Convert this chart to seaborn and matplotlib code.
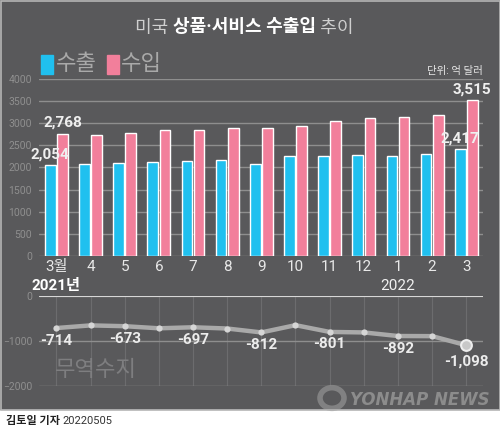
import numpy as np
import pandas as pd
import matplotlib
matplotlib.use("Agg")
import matplotlib.pyplot as plt
import seaborn as sns
from matplotlib.patches import Rectangle, Circle

# data (억 달러)
months = ["3월", "4", "5", "6", "7", "8", "9", "10", "11", "12", "1", "2", "3"]
exports = [2054, 2081, 2104, 2127, 2149, 2165, 2081, 2255, 2255, 2293, 2255, 2300, 2417]
imports = [2768, 2745, 2783, 2843, 2843, 2888, 2903, 2933, 3061, 3114, 3144, 3197, 3515]
balance = [-714, -655, -673, -720, -697, -725, -812, -650, -801, -812, -892, -895, -1098]
balance_labeled = [0, 2, 4, 6, 8, 10, 12]
bar_labels = [("수출", 0), ("수입", 0), ("수출", 12), ("수입", 12)]

BG = "#59595b"
BLUE = "#20c0ef"
PINK = "#f27f9b"

sns.set_theme(style="white")
plt.rcParams["font.family"] = ["Roboto", "Noto Sans CJK KR", "DejaVu Sans"]

df = pd.DataFrame({
    "month": months * 2,
    "kind": ["수출"] * len(months) + ["수입"] * len(months),
    "value": exports + imports,
})

fig = plt.figure(figsize=(5, 4.3), dpi=100, facecolor=BG)

# --- bar chart ---
ax = fig.add_axes([0.078, 0.4047, 0.888, 0.4116])
ax.set_facecolor(BG)
sns.barplot(data=df, x="month", y="value", hue="kind", order=months,
            hue_order=["수출", "수입"], palette={"수출": BLUE, "수입": PINK},
            width=0.71, gap=0.12, saturation=1, legend=False, ax=ax, zorder=3)
ax.set_ylim(0, 4000)
ax.set_xlim(-0.51, 12.49)
ax.set_yticks(np.arange(0, 4001, 500))
ax.yaxis.grid(True, color="#8e8e8e", lw=1)
ax.set_axisbelow(True)
for s in ax.spines.values():
    s.set_visible(False)
ax.set_xlabel("")
ax.set_ylabel("")
ax.tick_params(axis="y", length=0, pad=5, labelsize=7.5, labelcolor="#8f8f8f")
ax.tick_params(axis="x", length=0, pad=3, labelsize=11, labelcolor="#e8e8e8")

# value labels on first / last bars
for kind, i in bar_labels:
    cont = ax.containers[0] if kind == "수출" else ax.containers[1]
    bar = cont[i]
    val = exports[i] if kind == "수출" else imports[i]
    ax.annotate(f"{val:,}", (bar.get_x() + bar.get_width() / 2, bar.get_height()),
                xytext=(0, 2.5), textcoords="offset points", ha="center", va="bottom",
                fontsize=11, fontweight="bold", color="#efefef", zorder=5)

ax.text(0, -0.168, "2021년", transform=ax.get_xaxis_transform(), ha="center", va="center",
        fontsize=11, fontweight="bold", color="#ffffff")
ax.text(10, -0.168, "2022", transform=ax.get_xaxis_transform(), ha="center", va="center",
        fontsize=11, color="#f0f0f0")

# --- trade balance line ---
ax2 = fig.add_axes([0.078, 0.103, 0.888, 0.2086])
ax2.set_facecolor(BG)
pos = np.arange(len(months))
sns.lineplot(x=pos, y=balance, color="#a9a9a9", linewidth=3.2, marker="o",
             markersize=4.5, markerfacecolor="#d5d5d5", markeredgewidth=0, ax=ax2, zorder=4)
ax2.scatter(pos[-1], balance[-1], s=60, facecolor="#c8c8c8", edgecolor="#eeeeee",
            linewidth=1.5, zorder=5)
ax2.set_ylim(-2000, 0)
ax2.set_xlim(-0.51, 12.49)
ax2.set_yticks([0, -1000, -2000])
ax2.set_xticks(pos)
ax2.set_xticklabels([])
ax2.yaxis.grid(True, color="#8e8e8e", lw=1)
ax2.xaxis.grid(True, color="#6c6c6e", lw=0.8)
ax2.axhline(0, color="#e6e6e6", lw=1.2, zorder=3)
for s in ax2.spines.values():
    s.set_visible(False)
ax2.tick_params(axis="y", length=0, pad=5, labelsize=7.5, labelcolor="#8f8f8f")
ax2.tick_params(axis="x", length=0)
for i in balance_labeled:
    off = -12 if i == len(months) - 1 else -9
    ax2.annotate(f"{balance[i]:,}", (pos[i], balance[i]), xytext=(0, off),
                 textcoords="offset points", ha="center", va="center",
                 fontsize=11, fontweight="bold", color="#ececec", zorder=6)
ax2.text(-0.05, -1650, "무역수지", fontsize=16, color="#7e7e80", ha="left", va="center")

# --- title ---
fig.canvas.draw()
r = fig.canvas.get_renderer()
x0 = 135 / 500
ty = 1 - 27.5 / 430
parts = [("미국 ", "light", "#cfcfcf"), ("상품·서비스 수출입", "bold", "#ffffff"), (" 추이", "light", "#cfcfcf")]
x = x0
for txt, w, c in parts:
    t = fig.text(x, ty, txt, fontsize=13, fontweight=w, color=c, ha="left", va="center")
    bb = t.get_window_extent(r)
    x += bb.width / fig.bbox.width

# legend
fig.patches.append(Rectangle((41 / 500, 1 - 74 / 430), 12 / 500, 19 / 430,
                             transform=fig.transFigure, color=BLUE))
fig.text(56 / 500, 1 - 64 / 430, "수출", fontsize=16, color="#a9a9a9", va="center")
fig.patches.append(Rectangle((107 / 500, 1 - 74 / 430), 12 / 500, 19 / 430,
                             transform=fig.transFigure, color=PINK))
fig.text(121 / 500, 1 - 64 / 430, "수입", fontsize=16, color="#a9a9a9", va="center")
fig.text(483 / 500, 1 - 71 / 430, "단위: 억 달러", fontsize=7.5, color="#e6e6e6",
         ha="right", va="center")

# watermark
fig.patches.append(Circle((332 / 500, 1 - 398 / 430), 12 / 500, transform=fig.transFigure,
                          fill=False, edgecolor="#8c8c8c", lw=4, alpha=0.8))
fig.text(490 / 500, 1 - 400 / 430, "YONHAP NEWS", fontsize=12, fontweight="bold",
         fontstyle="italic", color="#8c8c8c", ha="right", va="center", family="DejaVu Sans")

# footer strip + border
fig.patches.append(Rectangle((0, 0), 1, 20 / 430, transform=fig.transFigure,
                             color="white", zorder=0))
fig.patches.append(Rectangle((0.5 / 500, 20 / 430), 499 / 500, 409.5 / 430,
                             transform=fig.transFigure, fill=False,
                             edgecolor="#b5b5b5", lw=1.2))
fig.text(6 / 500, 9 / 430, "김토일 기자", fontsize=8, fontweight="bold", color="#222222",
         va="center")
fig.text(62 / 500, 9 / 430, "20220505", fontsize=8, color="#333333", va="center")

fig.savefig("out.png", dpi=100, facecolor=BG)
